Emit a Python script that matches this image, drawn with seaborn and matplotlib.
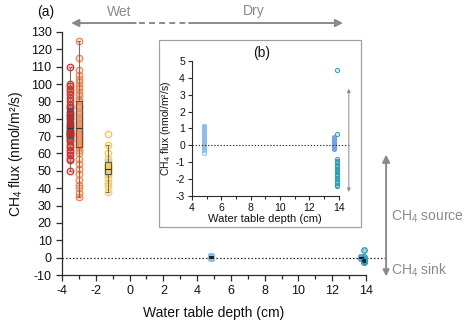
import matplotlib
matplotlib.use("Agg")
import matplotlib.pyplot as plt
import pandas as pd
import seaborn as sns
from matplotlib.colors import to_rgba
from matplotlib.patches import Rectangle, FancyArrowPatch
from matplotlib.lines import Line2D

# Water table depth (cm) of each plot group
depth_red = -3.5
depth_orange = -3.0
depth_yellow = -1.3
depth_mid = 4.8
depth_deep_a = 13.7
depth_deep_b = 13.9

# CH4 flux (nmol/m2/s) measured in each group
flux_red = [50, 56, 57, 59, 61, 62, 64, 65, 67, 68,
            69, 70, 70, 71, 71, 72, 72, 73, 73, 74,
            75, 76, 77, 78, 80, 81, 82, 83, 84, 86,
            87, 88, 90, 92, 94, 96, 97, 99, 100, 110]
flux_orange = [35, 37, 40, 42, 45, 48, 51, 54, 57, 60, 62,
               64, 65, 66, 67, 68, 69, 70, 71, 72, 73, 74,
               75, 77, 78, 80, 81, 83, 84, 86, 87, 88, 90,
               91, 93, 95, 97, 99, 101, 103, 105, 108, 115, 125]
flux_yellow = [38, 41, 43, 46, 48, 49, 50, 51, 51, 52, 53, 54, 55, 57, 60, 65, 71]
flux_mid = [-0.45, -0.3, -0.2, -0.13, -0.08, -0.02, 0.04, 0.09, 0.16, 0.21,
            0.27, 0.31, 0.38, 0.42, 0.49, 0.55, 0.6, 0.66, 0.71, 0.77,
            0.82, 0.88, 0.93, 0.98, 1.03, 1.08, 1.12, 1.15]
flux_deep_a = [-0.22, -0.15, -0.1, -0.04, 0.0, 0.03, 0.08, 0.12, 0.18, 0.22,
               0.27, 0.33, 0.38, 0.44, 0.5]
flux_deep_b = [4.45, 0.65, -0.82, -0.9, -0.98, -1.05, -1.15, -1.22, -1.3, -1.38,
               -1.45, -1.52, -1.6, -1.68, -1.75, -1.83, -1.92, -2.0, -2.1, -2.2,
               -2.32, -2.4]

groups = [
    ("red", depth_red, flux_red, "#d8302a", "#b82222"),
    ("orange", depth_orange, flux_orange, "#f2874e", "#ee9a68"),
    ("yellow", depth_yellow, flux_yellow, "#f7c85a", "#f2cd68"),
    ("mid", depth_mid, flux_mid, "#8fbcee", "#8fbcee"),
    ("deep_a", depth_deep_a, flux_deep_a, "#6fa3e6", "#6fa3e6"),
    ("deep_b", depth_deep_b, flux_deep_b, "#2e9fb5", "#2e9fb5"),
]
frames = []
for name, d, f, _, _ in groups:
    frames.append(pd.DataFrame({"group": name, "depth": d, "flux": f}))
df = pd.concat(frames, ignore_index=True)

sns.set_theme(style="ticks")
plt.rcParams["font.family"] = ["Liberation Sans", "DejaVu Sans"]
plt.rcParams["mathtext.fontset"] = "custom"
plt.rcParams["mathtext.rm"] = "Liberation Sans"
plt.rcParams["mathtext.it"] = "Liberation Sans:italic"
plt.rcParams["mathtext.default"] = "regular"
plt.rcParams["axes.unicode_minus"] = False

GRAY = "#8a8a8a"
INK = "#2b2b2b"

fig = plt.figure(figsize=(4.68, 3.29), dpi=100)
ax = fig.add_axes([0.1325, 0.164, 0.6495, 0.739])

# ---- panel (a) ----
for name, d, f, c, bc in groups:
    sub = df[df["group"] == name]
    wet = d < 0
    sns.scatterplot(data=sub, x="depth", y="flux", ax=ax, marker="o",
                    s=22 if wet else 16, facecolor=to_rgba(c, 0.2 if wet else 0.45),
                    edgecolor=c, linewidth=0.9, clip_on=False, legend=False)
    sns.boxplot(data=sub, x="depth", y="flux", ax=ax, orient="x", native_scale=True,
                width=0.35 if wet else 0.25, color=bc, showfliers=False,
                linecolor="#555555" if wet else "#111111",
                linewidth=0.8 if wet else 0.6,
                boxprops=dict(facecolor=to_rgba(bc, 0.6)),
                medianprops=dict(color="#333333" if wet else "#111111"),
                whiskerprops=dict(color="#707070" if wet else "#111111"),
                capprops=dict(color="#707070" if wet else "#111111"))

ax.plot([-4, 15.1], [0, 0], ls=(0, (1.2, 1.6)), color=INK, lw=0.9, clip_on=False, zorder=0.5)
ax.set_xlim(-4, 14)
ax.set_ylim(-10, 130)
ax.set_xticks(range(-4, 15, 2))
ax.set_xticks(range(-4, 15, 1), minor=True)
ax.set_yticks(range(-10, 131, 10))
sns.despine(ax=ax)
for s in ("left", "bottom"):
    ax.spines[s].set_color(INK)
    ax.spines[s].set_linewidth(0.9)
ax.tick_params(which="major", direction="out", length=4.5, width=0.9, color=INK,
               labelsize=9, labelcolor="#111111", pad=3)
ax.tick_params(which="minor", direction="out", length=3, width=0.9, color=INK)
ax.set_xlabel("Water table depth (cm)", fontsize=10, color="#111111", labelpad=6)
ax.set_ylabel("CH$_4$ flux (nmol/m²/s)", fontsize=10, color="#111111", labelpad=4)

# ---- inset frame and panel (b) ----
fig.add_artist(Rectangle((0.340, 0.310), 0.431, 0.568, transform=fig.transFigure,
                         facecolor="white", edgecolor="#a0a0a0", lw=0.9, zorder=1))
axb = fig.add_axes([0.410, 0.404, 0.314, 0.411])
axb.set_zorder(2)
axb.patch.set_alpha(0)
for name, d, f, c, bc in groups[3:]:
    sub = df[df["group"] == name]
    sns.scatterplot(data=sub, x="depth", y="flux", ax=axb, marker="o", s=9,
                    facecolor=to_rgba(c, 0.15), edgecolor=c, linewidth=0.7,
                    clip_on=False, legend=False)
axb.plot([4, 14.68], [0, 0], ls=(0, (1.2, 1.6)), color=INK, lw=0.8, clip_on=False)
axb.annotate("", xy=(14.68, 3.35), xytext=(14.68, -2.75), annotation_clip=False,
             arrowprops=dict(arrowstyle="<|-|>", color="#8c8c8c", lw=0.7,
                             mutation_scale=5, shrinkA=0, shrinkB=0))
axb.set_xlim(4, 14)
axb.set_ylim(-3, 5)
axb.set_xticks(range(4, 15, 2))
axb.set_xticks(range(4, 15, 1), minor=True)
axb.set_yticks(range(-3, 6, 1))
sns.despine(ax=axb)
for s in ("left", "bottom"):
    axb.spines[s].set_color(INK)
    axb.spines[s].set_linewidth(0.8)
axb.tick_params(which="major", direction="out", length=3, width=0.8, color=INK,
                labelsize=7.5, labelcolor="#111111", pad=2)
axb.tick_params(which="minor", direction="out", length=2, width=0.8, color=INK)
axb.set_xlabel("Water table depth (cm)", fontsize=8, color="#111111", labelpad=1)
axb.set_ylabel("CH$_4$ flux (nmol/m²/s)", fontsize=7.5, color="#111111", labelpad=2)
fig.text(0.560, 0.838, "(b)", ha="center", va="center", fontsize=10, color="#111111")

# ---- annotations ----
fig.text(0.098, 0.964, "(a)", ha="center", va="center", fontsize=10, color="#111111")
fig.text(0.254, 0.964, "Wet", ha="center", va="center", fontsize=10, color=GRAY)
fig.text(0.543, 0.967, "Dry", ha="center", va="center", fontsize=10, color=GRAY)
ya = 0.930
fig.add_artist(FancyArrowPatch((0.290, ya), (0.152, ya), transform=fig.transFigure,
                               arrowstyle="-|>", mutation_scale=11, color=GRAY, lw=1.4,
                               shrinkA=0, shrinkB=0))
fig.add_artist(Line2D([0.297, 0.400], [ya, ya], transform=fig.transFigure, color=GRAY,
                      lw=1.4, ls=(0, (3, 2.2))))
fig.add_artist(FancyArrowPatch((0.404, ya), (0.733, ya), transform=fig.transFigure,
                               arrowstyle="-|>", mutation_scale=11, color=GRAY, lw=1.4,
                               shrinkA=0, shrinkB=0))

xs = 0.825
fig.add_artist(FancyArrowPatch((xs, 0.219), (xs, 0.530), transform=fig.transFigure,
                               arrowstyle="-|>", mutation_scale=11, color=GRAY, lw=1.4,
                               shrinkA=0, shrinkB=0))
fig.add_artist(FancyArrowPatch((xs, 0.219), (xs, 0.160), transform=fig.transFigure,
                               arrowstyle="-|>", mutation_scale=9, color=GRAY, lw=1.4,
                               shrinkA=0, shrinkB=0))
fig.text(0.836, 0.340, "CH$_4$ source", ha="left", va="center", fontsize=10, color=GRAY)
fig.text(0.836, 0.179, "CH$_4$ sink", ha="left", va="center", fontsize=10, color=GRAY)

fig.savefig("out.png", dpi=100)
